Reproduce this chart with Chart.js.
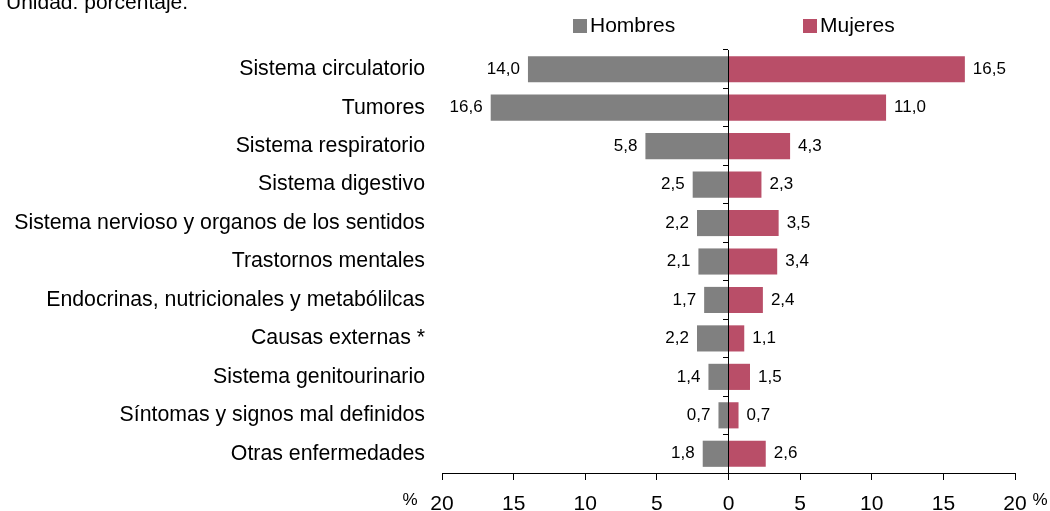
<!DOCTYPE html>
<html>
<head>
<meta charset="utf-8">
<script src="https://cdn.jsdelivr.net/npm/chart.js@4"></script>
<style>
  body { margin: 0; background: #fff; font-family: "Liberation Sans", Arial, sans-serif; }
  #wrap { position: relative; width: 1050px; height: 511px; overflow: hidden; }
  #title { position: absolute; left: 6px; top: -9px; font-size: 21px; line-height: 21px; color: #000; }
  .leg { position: absolute; top: 14px; font-size: 21px; line-height: 21px; color: #000; }
  .leg i { display: inline-block; width: 14px; height: 14px; margin-right: 3px; vertical-align: -1px; }
</style>
</head>
<body>
<div id="wrap">
  <canvas id="chart" width="1050" height="511"></canvas>
  <div id="title">Unidad: porcentaje.</div>
  <div class="leg" style="left:573px"><i style="background:#808080"></i>Hombres</div>
  <div class="leg" style="left:803px"><i style="background:#B94E68"></i>Mujeres</div>
</div>
<script>
// Causes of death, share by sex
const categories = [
  "Sistema circulatorio",
  "Tumores",
  "Sistema respiratorio",
  "Sistema digestivo",
  "Sistema nervioso y organos de los sentidos",
  "Trastornos mentales",
  "Endocrinas, nutricionales y metabólilcas",
  "Causas externas *",
  "Sistema genitourinario",
  "Síntomas y signos mal definidos",
  "Otras enfermedades",
]
const hombres = [14.0, 16.6, 5.8, 2.5, 2.2, 2.1, 1.7, 2.2, 1.4, 0.7, 1.8]
const mujeres = [16.5, 11.0, 4.3, 2.3, 3.5, 3.4, 2.4, 1.1, 1.5, 0.7, 2.6]
const xTicks = [-20, -15, -10, -5, 0, 5, 10, 15, 20]

const GRAY = "#808080"
const PINK = "#B94E68"
const FONT = '"Liberation Sans", Arial, sans-serif'

// value labels at bar ends + the "%" marks beside the x axis
const valueLabels = {
  id: "valueLabels",
  afterDatasetsDraw(chart) {
    const ctx = chart.ctx
    ctx.save()
    ctx.fillStyle = "#000"
    ctx.textBaseline = "middle"
    ctx.font = "17px " + FONT
    chart.data.datasets.forEach((ds, i) => {
      chart.getDatasetMeta(i).data.forEach((bar, j) => {
        const v = ds.data[j]
        const txt = Math.abs(v).toFixed(1).replace(".", ",")
        ctx.textAlign = v < 0 ? "right" : "left"
        ctx.fillText(txt, bar.x + (v < 0 ? -8 : 8), bar.y)
      })
    })
    const x = chart.scales.x
    ctx.font = "17px " + FONT
    ctx.textAlign = "center"
    ctx.fillText("%", x.left - 32, x.top + 27)
    ctx.fillText("%", x.right + 25, x.top + 27)
    ctx.restore()
  },
}

new Chart(document.getElementById("chart"), {
  type: "bar",
  data: {
    labels: categories,
    datasets: [
      {
        label: "Hombres",
        data: hombres.map((v) => -v),
        backgroundColor: GRAY,
        barPercentage: 0.68,
        categoryPercentage: 1,
      },
      {
        label: "Mujeres",
        data: mujeres,
        backgroundColor: PINK,
        barPercentage: 0.68,
        categoryPercentage: 1,
      },
    ],
  },
  options: {
    indexAxis: "y",
    responsive: false,
    animation: false,
    layout: { padding: { top: 50, right: 35, left: 0, bottom: 0 } },
    plugins: { legend: { display: false }, tooltip: { enabled: false } },
    scales: {
      x: {
        min: -20,
        max: 20,
        stacked: true,
        afterBuildTicks: (scale) => {
          scale.ticks = xTicks.map((v) => ({ value: v }))
        },
        afterFit: (scale) => {
          scale.height = 38
        },
        border: { display: true, color: "#000", width: 1 },
        grid: { drawOnChartArea: false, drawTicks: true, tickLength: 7, color: "#000" },
        ticks: {
          color: "#000",
          font: { size: 21, family: FONT },
          padding: 12,
          maxRotation: 0,
          callback: (v) => Math.abs(v),
        },
      },
      y: {
        stacked: true,
        afterFit: (scale) => {
          scale.width = 442
        },
        border: { display: false },
        grid: { display: false },
        ticks: { color: "#000", font: { size: 21.3, family: FONT }, padding: 9 },
      },
      zero: {
        type: "category",
        axis: "y",
        labels: categories,
        offset: true,
        position: { x: 0 },
        border: { display: true, color: "#000", width: 1, z: 1 },
        grid: { offset: true, drawOnChartArea: false, tickLength: 5, color: "#000" },
        ticks: { display: false },
      },
    },
  },
  plugins: [valueLabels],
})
</script>
</body>
</html>
